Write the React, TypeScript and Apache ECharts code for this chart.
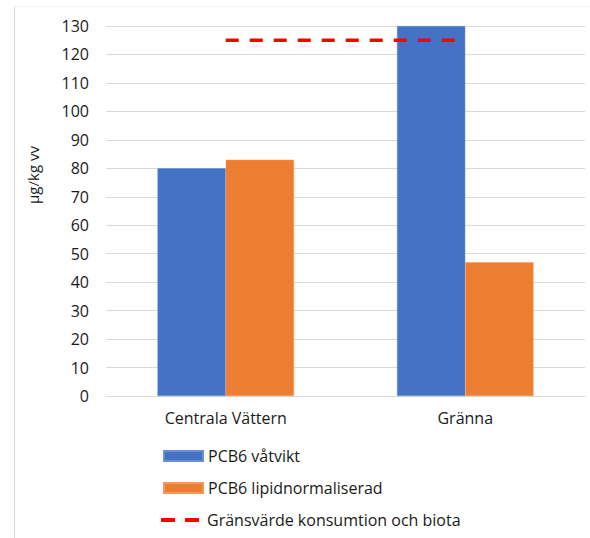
import React, { useEffect, useRef } from "react";
import * as echarts from "echarts";

const categories = ["Centrala Vättern", "Gränna"];
const wetWeight = [80, 130];
const lipidNormalized = [83, 47];
const limitValue = [125, 125];
const seriesNames = ["PCB6 våtvikt", "PCB6 lipidnormaliserad", "Gränsvärde konsumtion och biota"];
const yAxisName = "µg/kg vv";

const FONT = "'Open Sans', 'Noto Sans', sans-serif";

export default function App() {
  const ref = useRef<HTMLDivElement>(null);
  useEffect(() => {
    if (!ref.current) return;
    const chart = echarts.init(ref.current, undefined, { renderer: "svg" });
    const legendText = { color: "#1a1a1a", fontSize: 16, fontFamily: FONT, lineHeight: 20 };
    chart.setOption({
      animation: false,
      backgroundColor: "#ffffff",
      textStyle: { fontFamily: FONT },
      grid: { left: 106, right: 5, top: 26, bottom: 142, containLabel: false },
      xAxis: {
        type: "category",
        data: categories,
        axisLine: { show: true, lineStyle: { color: "#d9d9d9", width: 1 } },
        axisTick: { show: false },
        axisLabel: { color: "#1a1a1a", fontSize: 16, fontFamily: FONT, margin: 14 },
      },
      yAxis: {
        type: "value",
        min: 0,
        max: 130,
        interval: 10,
        axisLine: { show: false },
        axisTick: { show: false },
        axisLabel: { color: "#1a1a1a", fontSize: 16, fontFamily: FONT, margin: 17 },
        splitLine: { lineStyle: { color: "#d9d9d9", width: 1 } },
      },
      legend: [
        {
          left: 163,
          top: 446,
          padding: 0,
          itemWidth: 39,
          itemHeight: 10,
          icon: "rect",
          textStyle: legendText,
          data: [{ name: seriesNames[0] }],
        },
        {
          left: 163,
          top: 478,
          padding: 0,
          itemWidth: 39,
          itemHeight: 10,
          icon: "rect",
          textStyle: legendText,
          data: [{ name: seriesNames[1] }],
        },
        {
          left: 163,
          top: 510,
          padding: 0,
          itemWidth: 39,
          itemHeight: 4,
          icon: "rect",
          itemStyle: { opacity: 0 },
          lineStyle: { opacity: 0 },
          textStyle: legendText,
          data: [{ name: seriesNames[2] }],
        },
      ],
      graphic: [
        {
          type: "line",
          shape: { x1: 14.5, y1: 6, x2: 14.5, y2: 538 },
          style: { stroke: "#d9d9d9", lineWidth: 1 },
        },
        {
          type: "line",
          shape: { x1: 14.5, y1: 6.5, x2: 590, y2: 6.5 },
          style: { stroke: "#f2f2f2", lineWidth: 1 },
        },
        {
          type: "rect",
          shape: { x: 161, y: 518, width: 14, height: 4 },
          style: { fill: "#FF0000" },
        },
        {
          type: "rect",
          shape: { x: 185, y: 518, width: 14, height: 4 },
          style: { fill: "#FF0000" },
        },
        {
          type: "text",
          x: 33,
          y: 175,
          rotation: Math.PI / 2,
          style: {
            text: yAxisName,
            fill: "#1a1a1a",
            font: `15px ${FONT}`,
            textAlign: "center",
            textVerticalAlign: "middle",
          },
        },
      ],
      series: [
        {
          name: seriesNames[0],
          type: "bar",
          data: wetWeight,
          barGap: "0%",
          barCategoryGap: "43%",
          itemStyle: { color: "#4472C4", borderColor: "#6a8fd3", borderWidth: 0.5 },
        },
        {
          name: seriesNames[1],
          type: "bar",
          data: lipidNormalized,
          barGap: "0%",
          barCategoryGap: "43%",
          itemStyle: { color: "#ED7D31", borderColor: "#f29a5e", borderWidth: 0.5 },
        },
        {
          name: seriesNames[2],
          type: "line",
          data: limitValue,
          symbol: "none",
          itemStyle: { color: "#FF0000" },
          lineStyle: { color: "#FF0000", width: 3.5, type: [13, 11] },
          z: 5,
        },
      ],
    });
    return () => chart.dispose();
  }, []);
  return <div ref={ref} style={{ width: 590, height: 538, position: "absolute", left: 0, top: 0 }} />;
}
